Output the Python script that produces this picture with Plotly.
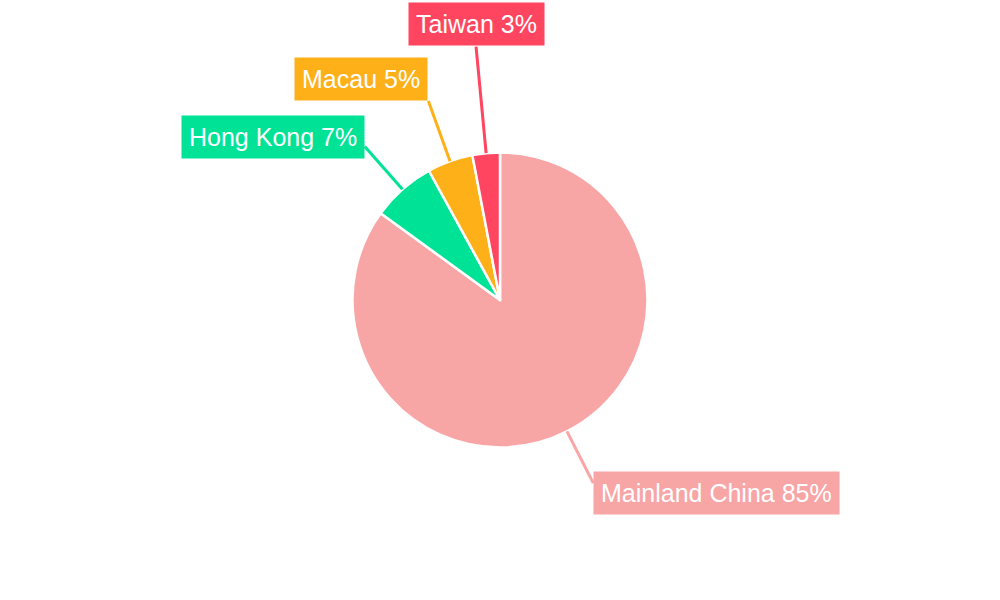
import math
import plotly.graph_objects as go

# ---- data ----
regions = ["Mainland China", "Hong Kong", "Macau", "Taiwan"]
shares = [85, 7, 5, 3]
colors = ["#F8A5A6", "#00E396", "#FEB019", "#FF4560"]

# ---- label layout config (pixel lengths of leader lines, anchors) ----
leader_len = [58, 57, 64, 107]
label_anchor = [("left", "middle", -10), ("right", "middle", 10),
                ("right", "bottom", 0), ("center", "bottom", 1)]

W, H = 1000, 600
cx, cy, R = 500, 300, 147.5

fig = go.Figure(go.Pie(
    labels=regions,
    values=shares,
    sort=False,
    direction="clockwise",
    rotation=0,
    marker=dict(colors=colors, line=dict(color="white", width=2.5)),
    textinfo="none",
    hoverinfo="label+percent",
    showlegend=False,
    domain=dict(x=[0, 1], y=[(H / 2 - R) / H, (H / 2 + R) / H]),
))

total = sum(shares)
cum = 0
shapes = []
annotations = []
for name, v, col, L, (xa, ya, ys) in zip(regions, shares, colors, leader_len, label_anchor):
    mid = (cum + v / 2) / total * 2 * math.pi
    cum += v
    ux, uy = math.sin(mid), -math.cos(mid)
    px, py = cx + R * ux, cy + R * uy
    ex, ey = px + L * ux, py + L * uy
    shapes.append(dict(type="line", xref="paper", yref="paper",
                       x0=px / W, y0=1 - py / H, x1=ex / W, y1=1 - ey / H,
                       line=dict(color=col, width=3)))
    pct = round(v / total * 100)
    annotations.append(dict(
        text=f"{name} {pct}%", x=ex / W, y=1 - ey / H, xref="paper", yref="paper",
        xanchor=xa, yanchor=ya, yshift=ys, showarrow=False,
        bgcolor=col, borderpad=7,
        font=dict(family="Liberation Sans, Arial, sans-serif", size=25, color="white"),
    ))

fig.update_layout(
    width=W, height=H,
    margin=dict(l=0, r=0, t=0, b=0),
    paper_bgcolor="white", plot_bgcolor="white",
    shapes=shapes, annotations=annotations,
)

fig.write_html("out.html", config={"displayModeBar": False},
               post_script="document.body.style.margin='0';")
